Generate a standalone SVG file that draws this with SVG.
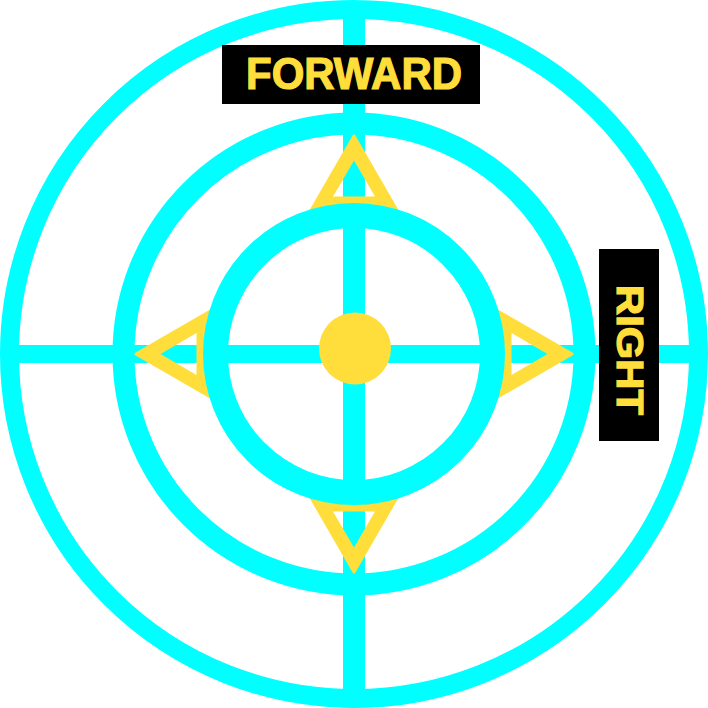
<svg xmlns="http://www.w3.org/2000/svg" width="708" height="708" viewBox="0 0 708 708">
  <style>
    .ring { fill: none; stroke: #00FFFF; }
    .line { stroke: #00FFFF; }
    .tri { fill: #FFDE3B; fill-rule: evenodd; }
    .box { fill: #000000; }
    .lbl { fill: #FFDE3B; stroke: #FFDE3B; stroke-width: 1.2; font-family: "Liberation Sans", Arial, sans-serif; font-weight: bold; }
  </style>
  <defs>
    <path id="triangle" class="tri" d="M354,133 L309,211 L399,211 Z M354,160.5 L333,196.5 L375,196.5 Z"/>
  </defs>
  <rect width="708" height="708" fill="#FFFFFF"/>
  <g id="outer-ring">
    <circle class="ring" cx="354" cy="354" r="344.5" stroke-width="19"/>
  </g>
  <g id="connectors">
    <line class="line" x1="354" y1="10" x2="354" y2="698" stroke-width="22"/>
    <line class="line" x1="10" y1="354" x2="698" y2="354" stroke-width="18"/>
  </g>
  <g id="arrows">
    <use href="#triangle"/>
    <use href="#triangle" transform="rotate(90 354 354)"/>
    <use href="#triangle" transform="rotate(180 354 354)"/>
    <use href="#triangle" transform="rotate(270 354 354)"/>
  </g>
  <g id="middle-ring">
    <circle class="ring" cx="354" cy="354" r="230.5" stroke-width="22"/>
  </g>
  <g id="inner-ring">
    <circle class="ring" cx="354" cy="354" r="138.5" stroke-width="25"/>
  </g>
  <g id="center-dot">
    <circle cx="355" cy="348.5" r="36" fill="#FFDE3B"/>
  </g>
  <g id="label-forward">
    <rect class="box" x="222" y="45" width="258" height="59"/>
    <text class="lbl" x="354" y="89" font-size="44" text-anchor="middle" textLength="216" lengthAdjust="spacingAndGlyphs">FORWARD</text>
  </g>
  <g id="label-right">
    <rect class="box" x="599" y="249" width="60" height="192"/>
    <text class="lbl" transform="translate(617 350) rotate(90)" x="0" y="0" font-size="36" text-anchor="middle" textLength="130" lengthAdjust="spacingAndGlyphs">RIGHT</text>
  </g>
</svg>
